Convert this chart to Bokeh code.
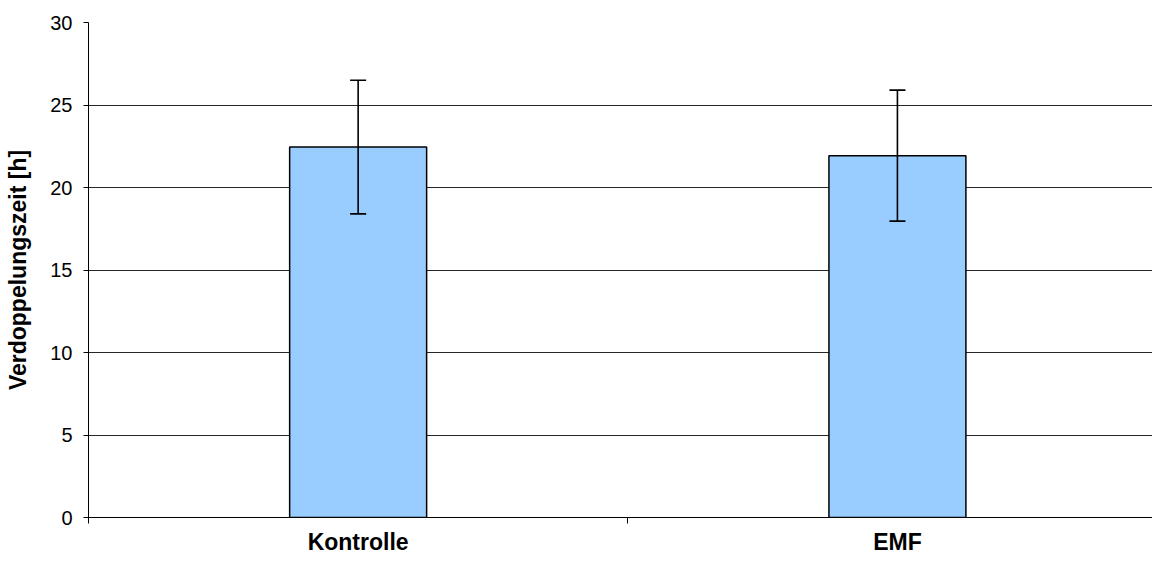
from bokeh.plotting import figure
from bokeh.models import ColumnDataSource, Range1d, FixedTicker, Whisker, TeeHead
from bokeh.embed import file_html
from bokeh.resources import INLINE

categories = ["Kontrolle", "EMF"]
means = [22.45, 21.93]
errors = [4.05, 3.97]
y_ticks = [0, 5, 10, 15, 20, 25, 30]
y_label = "Verdoppelungszeit [h]"

xpos = [i + 0.5 for i in range(len(categories))]
src = ColumnDataSource(dict(
    x=xpos, top=means,
    upper=[m + e for m, e in zip(means, errors)],
    lower=[m - e for m, e in zip(means, errors)],
))

p = figure(width=1152, height=557, output_backend="svg", toolbar_location=None,
           x_range=Range1d(0, 1.973), y_range=Range1d(0, 30),
           min_border_left=88, min_border_right=0, min_border_top=22, min_border_bottom=40)
p.outline_line_color = None
p.background_fill_color = "white"
p.border_fill_color = "white"

p.vbar(x="x", top="top", width=0.254, bottom=0, source=src,
       fill_color="#99CCFF", line_color="black", line_width=1.5)

w = Whisker(source=src, base="x", upper="upper", lower="lower", dimension="height",
            line_color="black", line_width=1.6, level="overlay",
            upper_head=TeeHead(size=16, line_color="black", line_width=1.6),
            lower_head=TeeHead(size=16, line_color="black", line_width=1.6))
p.add_layout(w)

font = "Liberation Sans"
# y axis
p.yaxis.ticker = FixedTicker(ticks=y_ticks)
p.yaxis.axis_label = y_label
p.yaxis.axis_label_text_font = font
p.yaxis.axis_label_text_font_style = "bold"
p.yaxis.axis_label_text_font_size = "23px"
p.yaxis.axis_label_text_color = "black"
p.yaxis.axis_label_standoff = 16
p.yaxis.major_label_text_font = font
p.yaxis.major_label_text_font_size = "20px"
p.yaxis.major_label_text_color = "black"
p.yaxis.major_label_standoff = 11
p.yaxis.major_tick_out = 5
p.yaxis.major_tick_in = 0
p.yaxis.minor_tick_out = 0
p.yaxis.minor_tick_in = 0
p.yaxis.axis_line_color = "black"
p.yaxis.major_tick_line_color = "black"

# x axis: tick marks at category boundaries, category names centred
p.xaxis.ticker = FixedTicker(ticks=xpos, minor_ticks=[0, 1, 2])
p.xaxis.major_label_overrides = {x: c for x, c in zip(xpos, categories)}
p.xaxis.major_label_text_font = font
p.xaxis.major_label_text_font_style = "bold"
p.xaxis.major_label_text_font_size = "23px"
p.xaxis.major_label_text_color = "black"
p.xaxis.major_label_standoff = 5
p.xaxis.major_tick_out = 0
p.xaxis.major_tick_in = 0
p.xaxis.minor_tick_out = 6
p.xaxis.minor_tick_in = 0
p.xaxis.minor_tick_line_color = "black"
p.xaxis.axis_line_color = "black"

p.xgrid.grid_line_color = None
p.ygrid.grid_line_color = "black"
p.ygrid.grid_line_alpha = 0.85
p.ygrid.grid_line_width = 1

open("out.html", "w").write(file_html(p, INLINE))
